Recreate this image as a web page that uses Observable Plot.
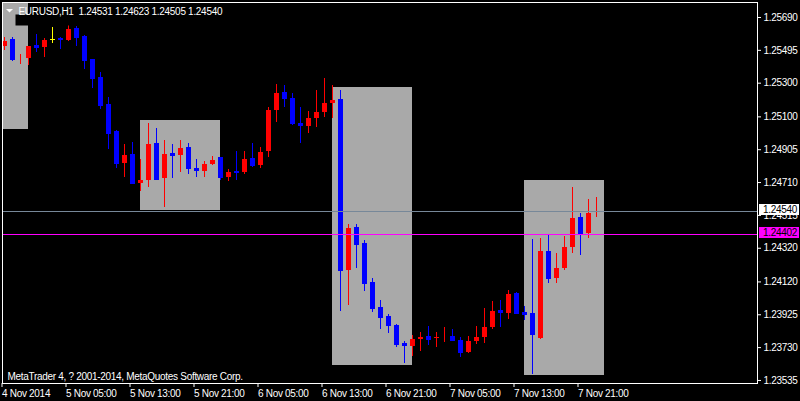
<!DOCTYPE html>
<html><head><meta charset="utf-8">
<script src="https://cdn.jsdelivr.net/npm/d3@7"></script>
<script src="https://cdn.jsdelivr.net/npm/@observablehq/plot@0.6"></script>
<style>html,body{margin:0;padding:0;background:#000;overflow:hidden}</style>
</head><body><div id="chart"></div>
<script>
// EURUSD H1 candles, 4 Nov 2014 21:00 .. 7 Nov 2014 23:00 (index = hours since 4 Nov 21:00)
const open = [1.25514,1.25559,1.25441,1.25441,1.25518,1.25509,1.25558,1.25562,1.25553,1.25619,
1.25577,1.25435,1.25328,1.25168,1.25013,1.24819,1.24871,1.24704,1.24722,1.24936,
1.24734,1.24877,1.24865,1.24918,1.24793,1.24770,1.24817,1.24853,1.24740,1.24770,
1.24764,1.24847,1.24811,1.24889,1.25132,1.25239,1.25209,1.25055,1.25037,1.25090,
1.25120,1.25179,1.25203,1.24182,1.24443,1.24348,1.24111,1.23968,1.23909,1.23861,
1.23749,1.23731,1.23778,1.23796,1.23784,1.23790,1.23796,1.23772,1.23701,1.23766,
1.23790,1.23844,1.23945,1.23927,1.24046,1.23933,1.23927,1.23784,1.24295,1.24135,
1.24194,1.24319,1.24497,1.24402,1.24531];
const high = [1.25573,1.25571,1.25470,1.25520,1.25589,1.25565,1.25631,1.25571,1.25666,1.25637,
1.25583,1.25437,1.25363,1.25215,1.25019,1.24936,1.24948,1.24847,1.25061,1.25031,
1.24960,1.24936,1.24960,1.24942,1.24847,1.24835,1.24865,1.24855,1.24788,1.24894,
1.24894,1.24942,1.24918,1.25156,1.25292,1.25286,1.25239,1.25156,1.25132,1.25257,
1.25328,1.25286,1.25257,1.24461,1.24461,1.24366,1.24140,1.24010,1.23927,1.23867,
1.23766,1.23802,1.23820,1.23856,1.23820,1.23850,1.23838,1.23790,1.23796,1.23856,
1.23962,1.24004,1.24010,1.24069,1.24057,1.23974,1.24372,1.24378,1.24396,1.24289,
1.24390,1.24681,1.24526,1.24609,1.24623];
const low = [1.25494,1.25429,1.25411,1.25405,1.25484,1.25453,1.25536,1.25500,1.25548,1.25518,
1.25381,1.25268,1.25144,1.24906,1.24793,1.24740,1.24702,1.24659,1.24681,1.24726,
1.24562,1.24734,1.24770,1.24758,1.24740,1.24740,1.24811,1.24722,1.24716,1.24722,
1.24758,1.24799,1.24793,1.24859,1.25067,1.25156,1.25049,1.24942,1.25001,1.25037,
1.25096,1.25090,1.23945,1.23980,1.24200,1.24063,1.23939,1.23838,1.23814,1.23731,
1.23636,1.23677,1.23707,1.23743,1.23731,1.23760,1.23766,1.23671,1.23695,1.23749,
1.23755,1.23838,1.23850,1.23897,1.23925,1.23891,1.23570,1.23776,1.24111,1.24111,
1.24188,1.24289,1.24277,1.24378,1.24505];
const close = [1.25553,1.25435,1.25447,1.25518,1.25509,1.25559,1.25558,1.25556,1.25619,1.25567,
1.25429,1.25322,1.25162,1.25001,1.24823,1.24871,1.24704,1.24728,1.24936,1.24728,
1.24877,1.24865,1.24918,1.24788,1.24776,1.24823,1.24841,1.24740,1.24770,1.24764,
1.24847,1.24811,1.24894,1.25138,1.25239,1.25209,1.25055,1.25043,1.25096,1.25126,
1.25185,1.25203,1.24182,1.24443,1.24342,1.24105,1.23962,1.23903,1.23856,1.23743,
1.23737,1.23784,1.23796,1.23778,1.23796,1.23796,1.23772,1.23701,1.23772,1.23796,
1.23850,1.23945,1.23933,1.24046,1.23927,1.23921,1.23802,1.24301,1.24135,1.24200,
1.24325,1.24497,1.24402,1.24531,1.24540];

// session boxes (hour index start/end, price high/low)
const boxStart = [-7, 17, 41, 65];
const boxEnd   = [3, 27, 51, 75];
const boxHigh  = [1.25900, 1.25078, 1.25274, 1.24722];
const boxLow   = [1.25025, 1.24546, 1.23624, 1.23565];

const bidPrice = 1.24540;
const hLinePrice = 1.24402;

const xTickPos = [0, 8, 16, 24, 32, 40, 48, 56, 64, 72];
const xTickLabels = ["4 Nov 2014","5 Nov 05:00","5 Nov 13:00","5 Nov 21:00","6 Nov 05:00",
  "6 Nov 13:00","6 Nov 21:00","7 Nov 05:00","7 Nov 13:00","7 Nov 21:00"];
const yTicks = [1.25690,1.25495,1.25300,1.25100,1.24905,1.24710,1.24515,1.24320,1.24120,1.23925,1.23730,1.23535];

const titleText = "EURUSD,H1  1.24531 1.24623 1.24505 1.24540";
const copyrightText = "MetaTrader 4, ? 2001-2014, MetaQuotes Software Corp.";

const candles = open.map((o, i) => ({i, open: o, high: high[i], low: low[i], close: close[i]}));
const boxes = boxStart.map((s, k) => ({start: s, end: boxEnd[k], high: boxHigh[k], low: boxLow[k]}));
const candleColor = d => d.close > d.open ? "#FF0000" : d.close < d.open ? "#0000FF" : "#FFFF00";

const chart = Plot.plot({
  width: 800, height: 401,
  marginTop: 2, marginBottom: 18, marginLeft: 2, marginRight: 43,
  style: {background: "#000", color: "#fff", fontFamily: "'Liberation Sans', Arial, sans-serif", fontSize: "10px", letterSpacing: "-0.3px"},
  x: {domain: [-0.1875, 94.1875], axis: null},
  y: {domain: [1.23517, 1.25779], axis: null},
  color: {type: "identity"},
  marks: [
    Plot.rect(boxes, {x1: "start", x2: "end", y1: "low", y2: "high", fill: "#A9A9A9", clip: true, shapeRendering: "crispEdges"}),
    Plot.ruleX(candles, {x: "i", y1: "low", y2: "high", stroke: candleColor, strokeWidth: 1, shapeRendering: "crispEdges"}),
    Plot.ruleX(candles, {x: "i", y1: "open", y2: "close", stroke: candleColor, strokeWidth: 5, insetTop: -0.5, insetBottom: -0.5, shapeRendering: "crispEdges"}),
    Plot.ruleY([bidPrice], {stroke: "#778899", shapeRendering: "crispEdges"}),
    Plot.ruleY([hLinePrice], {stroke: "#FF00FF", shapeRendering: "crispEdges"}),
    Plot.axisX(xTickPos, {tickFormat: (d, i) => xTickLabels[i], textAnchor: "start", tickSize: 4, tickPadding: 2, dx: -2, color: "#fff"}),
    Plot.axisY(yTicks, {anchor: "right", tickSize: 3, tickPadding: 3, tickFormat: d => d.toFixed(5), color: "#fff"}),
    Plot.frame({stroke: "#fff", shapeRendering: "crispEdges"}),
    Plot.text([copyrightText], {frameAnchor: "bottom-left", textAnchor: "start", lineAnchor: "middle", dx: 5, dy: -6.5, fill: "#fff"}),
    Plot.text([titleText], {frameAnchor: "top-left", textAnchor: "start", lineAnchor: "middle", dx: 16, dy: 9, fill: "#fff"})
  ]
});
document.getElementById("chart").appendChild(chart);

// post-process: title background, menu triangle, price labels on right axis
const svg = d3.select(chart);
const titleNode = svg.selectAll("text").filter(function() { return this.textContent === titleText; }).node();
if (titleNode) {
  const bb = titleNode.getBBox();
  d3.select(titleNode.parentNode).insert("rect", "text")
    .attr("x", bb.x - 1).attr("y", 5).attr("width", bb.width + 3).attr("height", 11).attr("fill", "#000");
}
svg.append("path").attr("d", "M6,9L13,9L9.5,12.5Z").attr("fill", "#fff");

const ys = chart.scale("y");
function priceLabel(price, bg) {
  const py = Math.round(ys.apply(price));
  const g = svg.append("g");
  g.append("rect").attr("x", 759).attr("y", py - 7).attr("width", 40).attr("height", 11).attr("fill", bg);
  g.append("text").attr("x", 763).attr("y", py + 2).attr("fill", "#000")
    .attr("text-anchor", "start").attr("font-size", 10).text(price.toFixed(5));
}
priceLabel(bidPrice, "#FFFFFF");
priceLabel(hLinePrice, "#FF00FF");
</script>
</body></html>
